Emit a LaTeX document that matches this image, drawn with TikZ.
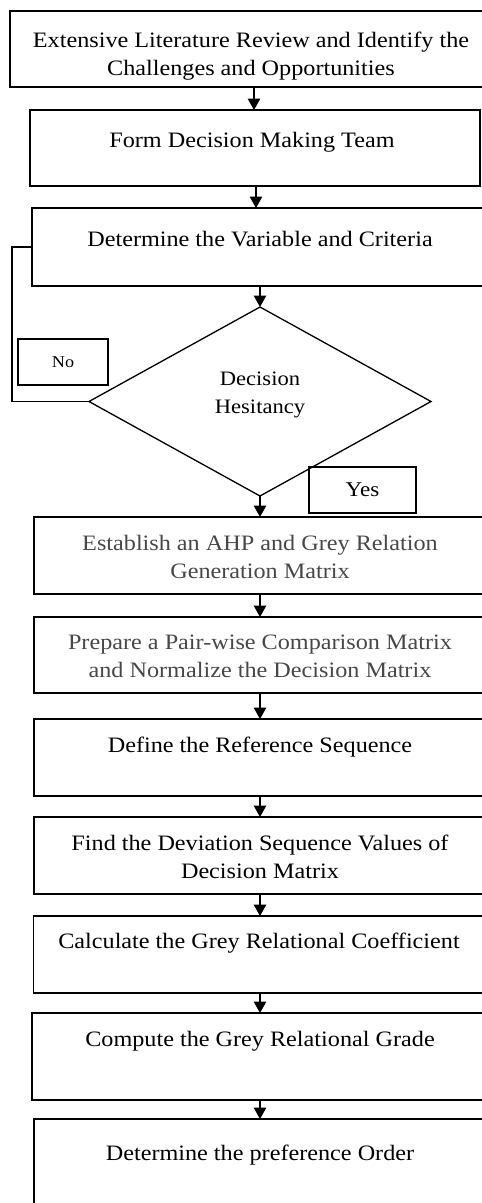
\documentclass[tikz,border=0pt]{standalone}
\usepackage{fontspec}
\setmainfont{Liberation Serif}[FakeStretch=1.1]
\usetikzlibrary{shapes.geometric,arrows.meta}
\begin{document}
\begin{tikzpicture}[x=1pt,y=-1pt,
  box/.style={draw,line width=1.8pt,inner sep=0pt,outer sep=0pt},
  txt/.style={anchor=base,align=center,inner sep=0pt,font=\fontsize{22}{28}\selectfont},
  gtxt/.style={txt,text=black!72},
  arr/.style={line width=1.3pt,-{Triangle[width=12.5pt,length=11.5pt]}},
  lbl/.style={draw,line width=1.5pt,inner sep=0pt,outer sep=0pt},
  dia/.style={draw,diamond,line width=1.3pt,inner sep=0pt,outer sep=0pt}
]
\useasboundingbox (0,0) rectangle (482,1203);
\clip (0,0) rectangle (482,1203);

% boxes
\node[box,minimum width=484pt,minimum height=76pt] (b1) at (252,49) {};
\node[box,minimum width=450pt,minimum height=76pt] (b2) at (255,148) {};
\node[box,minimum width=456pt,minimum height=78pt] (b3) at (260,247) {};
\node[dia,minimum width=342pt,minimum height=189pt] (d) at (260,401.5) {};
\node[box,minimum width=452pt,minimum height=77pt] (b4) at (260,555.5) {};
\node[box,minimum width=452pt,minimum height=76pt] (b5) at (260,655) {};
\node[box,minimum width=452pt,minimum height=77pt] (b6) at (260,757.5) {};
\node[box,minimum width=452pt,minimum height=77pt] (b7) at (260,855.5) {};
\node[box,minimum width=453pt,minimum height=77pt] (b8) at (260,954.5) {};
\node[box,minimum width=456pt,minimum height=87pt] (b9) at (260,1056.5) {};
\node[box,minimum width=452pt,minimum height=101pt] (b10) at (260,1169.5) {};

% texts (anchor=base is the baseline of the last line)
\node[txt] (t1) at (251,75) {Extensive Literature Review and Identify the\\Challenges and Opportunities};
\node[txt] (t2) at (252,147) {Form Decision Making Team};
\node[txt] (t3) at (260,246) {Determine the Variable and Criteria};
\node[txt,font=\fontsize{20.5}{28}\selectfont] (dt) at (260,413) {Decision\\Hesitancy};
\node[gtxt] (t4) at (260,578) {Establish an AHP and Grey Relation\\Generation Matrix};
\node[gtxt] (t5) at (260,677) {Prepare a Pair-wise Comparison Matrix\\and Normalize the Decision Matrix};
\node[txt] (t6) at (260,752) {Define the Reference Sequence};
\node[txt] (t7) at (260,878) {Find the Deviation Sequence Values of\\Decision Matrix};
\node[txt] (t8) at (259,948) {Calculate the Grey Relational Coefficient};
\node[txt] (t9) at (260,1046) {Compute the Grey Relational Grade};
\node[txt] (t10) at (260,1160) {Determine the preference Order};

% labels
\node[lbl,minimum width=90pt,minimum height=46pt,font=\fontsize{16.5}{20}\selectfont] (no) at (63,362) {No};
\node[lbl,minimum width=107pt,minimum height=46pt,font=\fontsize{21}{25}\selectfont] (yes) at (362.5,490) {Yes};

% connectors
\draw[arr] ([xshift=2pt]b1.south) -- ([xshift=-1pt]b2.north);
\draw[arr] ([xshift=1pt]b2.south) -- ([xshift=-4pt]b3.north);
\draw[arr] (b3.south) -- (d.north);
\draw[arr] (d.south) -- (b4.north);
\draw[arr] (b4.south) -- (b5.north);
\draw[arr] (b5.south) -- (b6.north);
\draw[arr] (b6.south) -- (b7.north);
\draw[arr] (b7.south) -- (b8.north);
\draw[arr] (b8.south) -- (b9.north);
\draw[arr] (b9.south) -- (b10.north);

\coordinate (fb) at (12,401.5);
\draw[line width=1.5pt] (d.west) -- (fb) |- (b3.west);
\end{tikzpicture}
\end{document}
